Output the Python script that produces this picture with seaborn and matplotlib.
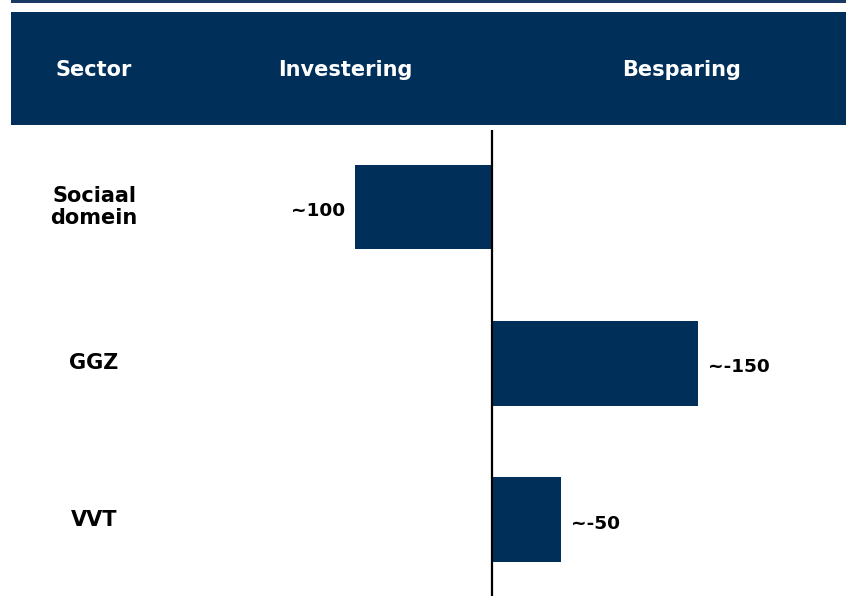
import matplotlib
matplotlib.use("Agg")
import matplotlib.pyplot as plt
import matplotlib.transforms as mtransforms
from matplotlib.patches import Rectangle
import seaborn as sns
import pandas as pd

# Data
sectors = ["Sociaal\ndomein", "GGZ", "VVT"]
values = [100, -150, -50]          # positive = investering, negative = besparing
value_labels = ["~100", "~-150", "~-50"]
headers = ["Sector", "Investering", "Besparing"]

NAVY = "#00305A"

sns.set_theme(style="white")
plt.rcParams["font.family"] = ["DejaVu Sans"]
plt.rcParams["text.color"] = "black"

W, H = 846, 596
fig = plt.figure(figsize=(W / 100, H / 100), dpi=100)

def fx(px):
    return px / W

def fy(py):
    return 1 - py / H

# Header band and thin top rule
fig.patches.append(Rectangle((fx(11), fy(125)), fx(846) - fx(11), (125 - 12) / H,
                             transform=fig.transFigure, facecolor=NAVY,
                             edgecolor="none", zorder=0))
fig.patches.append(Rectangle((fx(11), fy(2.5)), fx(846) - fx(11), 2.5 / H,
                             transform=fig.transFigure, facecolor="#1B3A63",
                             edgecolor="none", zorder=0))

header_x = [94, 345, 682]
for txt, x in zip(headers, header_x):
    fig.text(fx(x), fy(70), txt, color="white", fontsize=15, fontweight="bold",
             ha="center", va="center")

# Bar panel
ax = fig.add_axes([fx(11), 0, fx(846) - fx(11), (596 - 130) / H])
df = pd.DataFrame({"sector": sectors, "value": values})
sns.barplot(data=df, x="value", y="sector", orient="h", color=NAVY,
            width=0.543, saturation=1, ax=ax, edgecolor="none")

ax.set_xlim(351, -258)
ax.set_ylim(2.486, -0.492)
ax.axvline(0, color="black", linewidth=1.6, zorder=5)

for s in ax.spines.values():
    s.set_visible(False)
ax.set_xticks([])
ax.set_yticks([])
ax.set_xlabel("")
ax.set_ylabel("")

# Sector names, centred under the "Sector" header
trans = mtransforms.blended_transform_factory(fig.transFigure, ax.transData)
for i, name in enumerate(sectors):
    ax.text(fx(94), i, name, transform=trans, ha="center", va="center",
            fontsize=15, fontweight="bold", color="black", linespacing=1.1)

# Value labels next to each bar end
for i, (v, lab) in enumerate(zip(values, value_labels)):
    if v > 0:
        ax.annotate(lab, (v, i), xytext=(-10, -4), textcoords="offset pixels",
                    ha="right", va="center", fontsize=13.3, fontweight="bold",
                    color="black")
    else:
        ax.annotate(lab, (v, i), xytext=(10, -4), textcoords="offset pixels",
                    ha="left", va="center", fontsize=13.3, fontweight="bold",
                    color="black")

fig.savefig("out.png", dpi=100)
